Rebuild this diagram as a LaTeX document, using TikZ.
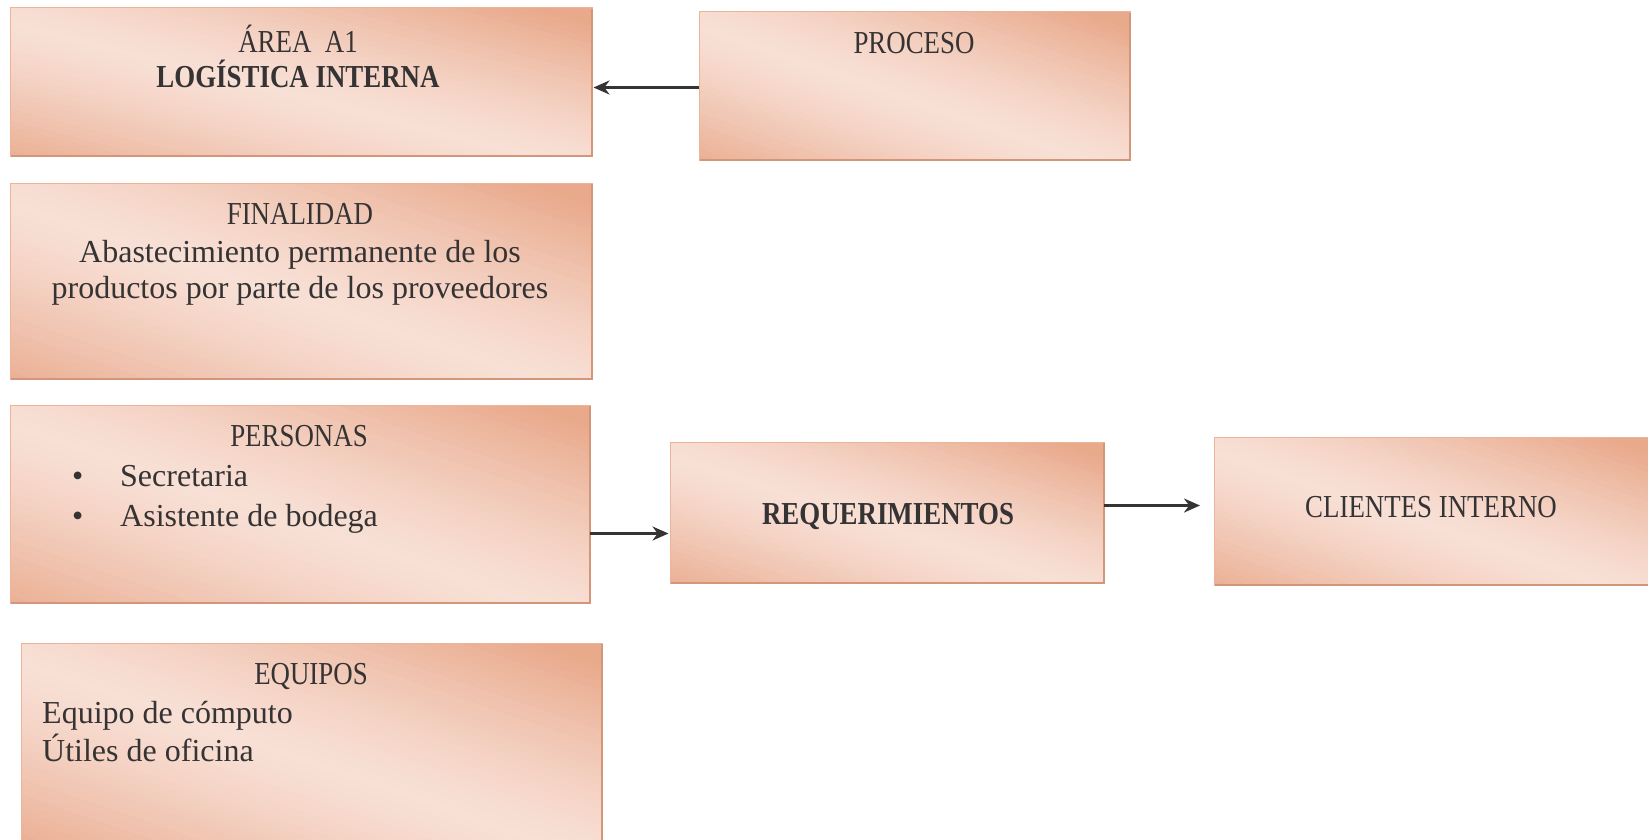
\documentclass[tikz,border=0pt]{standalone}
\usepackage{fontspec}
\setmainfont{Liberation Serif}
\newfontfamily\capsfont{Liberation Serif}[FakeStretch=0.84]
\usetikzlibrary{arrows.meta,calc}
\definecolor{peachdark}{HTML}{E9A98B}
\definecolor{peachlight}{HTML}{F8E0D6}
\definecolor{boxedge}{HTML}{EBB49B}
\definecolor{boxshadow}{HTML}{D39679}
\definecolor{ink}{HTML}{353333}
\tikzset{
  x=1pt, y=-1pt,
  box/.style={rectangle, inner sep=0pt, outer sep=0pt, anchor=north west},
  txt/.style={text=ink, inner sep=0pt, anchor=base,
    font=\fontsize{32}{37}\selectfont},
  captxt/.style={txt, font=\fontsize{32}{37}\selectfont\capsfont},
  boldcaps/.style={txt, font=\fontsize{32}{37}\selectfont\capsfont\bfseries},
  lefttxt/.style={txt, anchor=base west},
  arr/.style={-{Stealth[length=16pt,width=14pt]}, line width=2.6pt, draw=ink}
}
% diagonal peach gradient: light along the NW--SE diagonal, darker toward the
% SW and NE corners, built from overlapping bands clipped to the box
\newcommand{\peachfill}[1]{%
  \begin{scope}
    \clip (#1.north west) rectangle (#1.south east);
    \foreach \i in {0,...,49} {
      \pgfmathsetmacro{\ca}{-1+\i/25}
      \pgfmathsetmacro{\cb}{\ca+0.05}
      \pgfmathsetmacro{\cc}{\ca+1}
      \pgfmathsetmacro{\cd}{\cb+1}
      \pgfmathsetmacro{\cm}{\ca+0.02+0.1}
      \pgfmathtruncatemacro{\p}{100*(1-min(1,abs(\cm))^1.3)}
      \fill[peachlight!\p!peachdark]
        ($(#1.north west)!\ca!(#1.north east)$) --
        ($(#1.north west)!\cb!(#1.north east)$) --
        ($(#1.south west)!\cd!(#1.south east)$) --
        ($(#1.south west)!\cc!(#1.south east)$) -- cycle;
    }
  \end{scope}
  \draw[boxedge, line width=1pt] (#1.north west) rectangle (#1.south east);
  \draw[boxshadow, line width=2pt] ([xshift=1pt]#1.south west) -- (#1.south east) -- ([yshift=-1pt]#1.north east);}
\begin{document}
\begin{tikzpicture}
\useasboundingbox[fill=white] (0,0) rectangle (1648,840);

% boxes
\node[box, minimum width=582pt, minimum height=148pt] (area) at (10,8) {};
\node[box, minimum width=431pt, minimum height=148pt] (proceso) at (699,12) {};
\node[box, minimum width=582pt, minimum height=196pt] (fin) at (10,183) {};
\node[box, minimum width=580pt, minimum height=198pt] (pers) at (10,405) {};
\node[box, minimum width=434pt, minimum height=141pt] (req) at (670,442) {};
\node[box, minimum width=436pt, minimum height=148pt] (cli) at (1214,437) {};
\node[box, minimum width=581pt, minimum height=199pt] (equ) at (21,643) {};
\foreach \b in {area,proceso,fin,pers,req,cli,equ} {\peachfill{\b}}

% texts
\node[captxt] (areaA) at (298,53) {ÁREA\ \ A1};
\node[boldcaps] (areaB) at (298,88) {LOGÍSTICA INTERNA};
\node[captxt] (procT) at (914,54) {PROCESO};

\node[captxt] (finT) at (300,224) {FINALIDAD};
\node[txt] (finA) at (300,262) {Abastecimiento permanente de los};
\node[txt] (finB) at (300,298) {productos por parte de los proveedores};

\node[captxt] (persT) at (299,446) {PERSONAS};
\node[lefttxt] (b1) at (72,486) {•};
\node[lefttxt] (p1) at (120,486) {Secretaria};
\node[lefttxt] (b2) at (72,526) {•};
\node[lefttxt] (p2) at (120,526) {Asistente de bodega};

\node[boldcaps] (reqT) at (888,524) {REQUERIMIENTOS};
\node[captxt] (cliT) at (1431,517) {CLIENTES INTERNO};

\node[captxt] (equT) at (311,684) {EQUIPOS};
\node[lefttxt] (e1) at (42,723) {Equipo de cómputo};
\node[lefttxt] (e2) at (42,761) {Útiles de oficina};

% connectors
\coordinate (prOut) at ([yshift=-1.5pt]proceso.west);
\coordinate (arIn) at ([xshift=1.5pt]area.east |- prOut);
\coordinate (pOut) at ([yshift=-29.5pt]pers.east);
\coordinate (rIn) at ([xshift=-1.5pt]req.west |- pOut);
\coordinate (rOut) at ([yshift=7pt]req.east);
\coordinate (cIn) at ([xshift=-14pt]cli.west |- rOut);
\draw[arr] (rOut) -- (cIn);
\draw[arr] (pOut) -- (rIn);
\draw[arr] (prOut) -- (arIn);
\end{tikzpicture}
\end{document}
